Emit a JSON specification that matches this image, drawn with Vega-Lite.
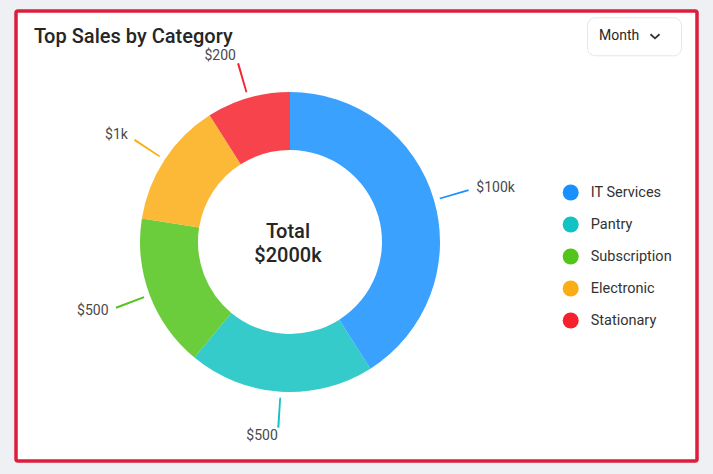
{
  "$schema": "https://vega.github.io/schema/vega-lite/v6.json",
  "width": 713,
  "height": 474,
  "autosize": {"type": "fit", "contains": "padding"},
  "padding": {"left": 16, "top": 11, "right": 16, "bottom": 13},
  "background": "#eef0f4",
  "view": {"stroke": "#dc1e3c", "strokeWidth": 3.5, "fill": "white", "cornerRadius": 2},
  "title": {
    "text": "Top Sales by Category",
    "anchor": "start",
    "frame": "group",
    "orient": "top",
    "offset": -51.5,
    "baseline": "alphabetic",
    "dx": 18,
    "fontSize": 20,
    "fontWeight": 500,
    "font": "Roboto Medium, Roboto",
    "color": "#262626"
  },
  "config": {
    "view": {"stroke": "#dc1e3c", "strokeWidth": 3.5, "fill": "white", "cornerRadius": 2},
    "font": "Roboto"
  },
  "data": {
    "values": [
      {"category": "IT Services", "share": 41, "label": "$100k", "rank": 1},
      {"category": "Pantry", "share": 20, "label": "$500", "rank": 2},
      {"category": "Subscription", "share": 16.5, "label": "$500", "rank": 3},
      {"category": "Electronic", "share": 13.5, "label": "$1k", "rank": 4},
      {"category": "Stationary", "share": 9, "label": "$200", "rank": 5}
    ]
  },
  "layer": [
    {
      "mark": {"type": "arc", "x": 274, "y": 231, "radius": 150, "radius2": 92, "fillOpacity": 0.85},
      "encoding": {
        "theta": {"field": "share", "type": "quantitative", "stack": true},
        "order": {"field": "rank", "type": "quantitative"},
        "color": {
          "field": "category",
          "type": "nominal",
          "scale": {
            "domain": ["IT Services", "Pantry", "Subscription", "Electronic", "Stationary"],
            "range": ["#1890ff", "#13c2c2", "#52c41a", "#faad14", "#f5222d"]
          },
          "legend": {
            "title": null,
            "orient": "none",
            "legendX": 546.7,
            "legendY": 173.5,
            "symbolType": "circle",
            "symbolSize": 256,
            "symbolStrokeWidth": 0,
            "symbolOpacity": 1,
            "labelFontSize": 14.5,
            "labelColor": "#333333",
            "labelFont": "Roboto",
            "labelOffset": 12,
            "rowPadding": 16,
            "padding": 0
          }
        }
      }
    },
    {
      "transform": [
        {"stack": "share", "groupby": [], "sort": [{"field": "rank", "order": "ascending"}], "as": ["s0", "s1"]}
      ],
      "mark": {
        "type": "arc",
        "x": 274,
        "y": 231,
        "radius": 186,
        "radius2": 156,
        "theta": {"expr": "PI*(datum.s0+datum.s1)/100 - 0.0055"},
        "theta2": {"expr": "PI*(datum.s0+datum.s1)/100 + 0.0055"}
      },
      "encoding": {
        "color": {"field": "category", "type": "nominal"}
      }
    },
    {
      "mark": {
        "type": "text",
        "x": 274,
        "y": 231,
        "radius": 194,
        "fontSize": 14,
        "color": "#4a4a4a",
        "baseline": "middle",
        "align": {"expr": "datum.share_start + datum.share_end < 100 ? 'left' : 'right'"}
      },
      "encoding": {
        "theta": {"field": "share", "type": "quantitative", "stack": true},
        "order": {"field": "rank", "type": "quantitative"},
        "text": {"field": "label"}
      }
    },
    {
      "data": {"values": [{"t": "Total\n$2000k"}]},
      "mark": {
        "type": "text",
        "x": 272,
        "y": 221,
        "fontSize": 20,
        "fontWeight": 500,
        "font": "Roboto Medium, Roboto",
        "lineHeight": 24,
        "lineBreak": "\n",
        "color": "#262626",
        "align": "center",
        "baseline": "middle"
      },
      "encoding": {"text": {"field": "t"}}
    },
    {
      "data": {"values": [{"b": "Month"}]},
      "mark": {"type": "point", "opacity": 0, "size": 81, "strokeWidth": 1.8, "color": "#333333"},
      "encoding": {
        "shape": {
          "field": "b",
          "type": "nominal",
          "scale": {"range": ["M-1,-0.45L0,0.45L1,-0.45"]},
          "legend": {
            "title": "Month",
            "orient": "none",
            "legendX": 571,
            "legendY": 6.3,
            "titleOrient": "left",
            "titleFontSize": 14,
            "titleFontWeight": 400,
            "titleColor": "#262626",
            "titleFont": "Roboto",
            "titlePadding": 8,
            "labelExpr": "''",
            "labelOffset": 7,
            "labelFontSize": 14,
            "padding": 12,
            "strokeColor": "#e4e6ea",
            "fillColor": "white",
            "cornerRadius": 8,
            "symbolStrokeColor": "#333333",
            "symbolStrokeWidth": 1.8,
            "symbolSize": 81,
            "symbolFillColor": "transparent"
          }
        }
      }
    }
  ]
}
